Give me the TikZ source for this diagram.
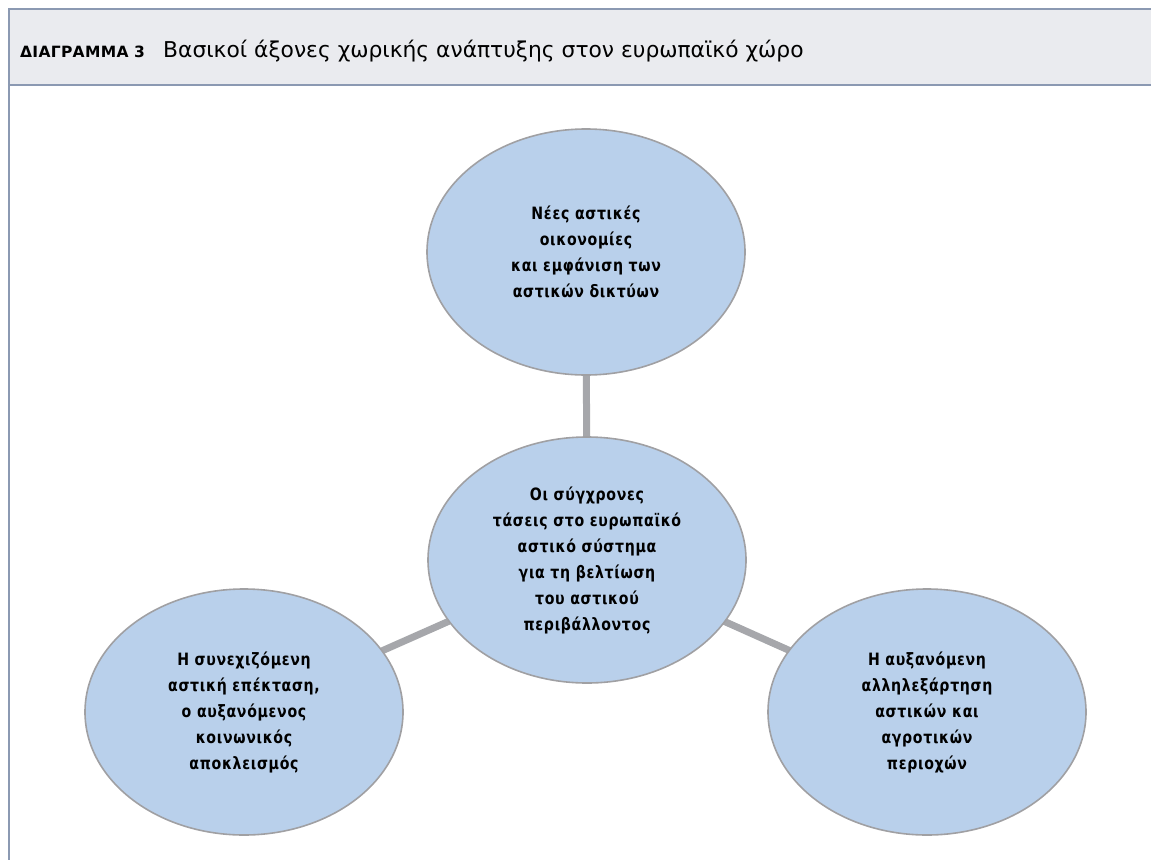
\documentclass[tikz,border=0pt]{standalone}
\usepackage{fontspec}
\setmainfont{DejaVu Sans}
\newfontfamily\tagfont[LetterSpace=2]{DejaVu Sans}
\newfontfamily\bubblefont[LetterSpace=4,FakeStretch=0.83]{DejaVu Sans}
\usepackage{tikz}
\usetikzlibrary{positioning,shapes,backgrounds}
\definecolor{bubblefill}{RGB}{185,208,235}
\definecolor{bubbleline}{RGB}{160,160,163}
\definecolor{spoke}{RGB}{166,167,171}
\definecolor{headfill}{RGB}{234,235,239}
\definecolor{frameline}{RGB}{139,153,178}

\begin{document}
\begin{tikzpicture}[%
        x=1pt,y=-1pt,
        bubble/.style={%
          ellipse,
          minimum width=318pt,
          minimum height=246pt,
          inner sep=0pt,
          draw=bubbleline,line width=1.6pt,
          fill=bubblefill,
          align=center,
          font=\bubblefont\bfseries\fontsize{17}{26}\selectfont
        },
        spokeline/.style={draw=spoke,line width=7pt}
      ]
      \useasboundingbox (0,0) rectangle (1151,860);
      % header band and frame
      \fill[headfill] (9,9) rectangle (1151,85);
      \draw[frameline,line width=1.5pt] (1151,9) -- (9,9) -- (9,860) (9,85) -- (1151,85);
      \node[anchor=base west,inner sep=0pt,font=\tagfont\bfseries\fontsize{15.5}{18}\selectfont] (t1) at (20,57) {ΔΙΑΓΡΑΜΜΑ 3};
      \node[anchor=base west,inner sep=0pt,font=\fontsize{21.8}{26}\selectfont] (t2) at (163,57) {Βασικοί άξονες χωρικής ανάπτυξης στον ευρωπαϊκό χώρο};

      \node[bubble] (1) at (587,560) {Οι σύγχρονες\\τάσεις στο ευρωπαϊκό\\αστικό σύστημα\\για τη βελτίωση\\του αστικού\\περιβάλλοντος};
      \node[bubble] (2) at (586,252) {Νέες αστικές\\οικονομίες\\και εμφάνιση των\\αστικών δικτύων};
      \node[bubble] (3) at (244,712) {Η συνεχιζόμενη\\αστική επέκταση,\\ο αυξανόμενος\\κοινωνικός\\αποκλεισμός};
      \node[bubble] (4) at (927,712) {Η αυξανόμενη\\αλληλεξάρτηση\\αστικών και\\αγροτικών\\περιοχών};

      \begin{scope}[on background layer]
      \path (1.center) edge [spokeline] (2.center)
      (1.center) edge [spokeline] (3.center)
      (1.center) edge [spokeline] (4.center);
      \end{scope}
  \end{tikzpicture}
\end{document}
